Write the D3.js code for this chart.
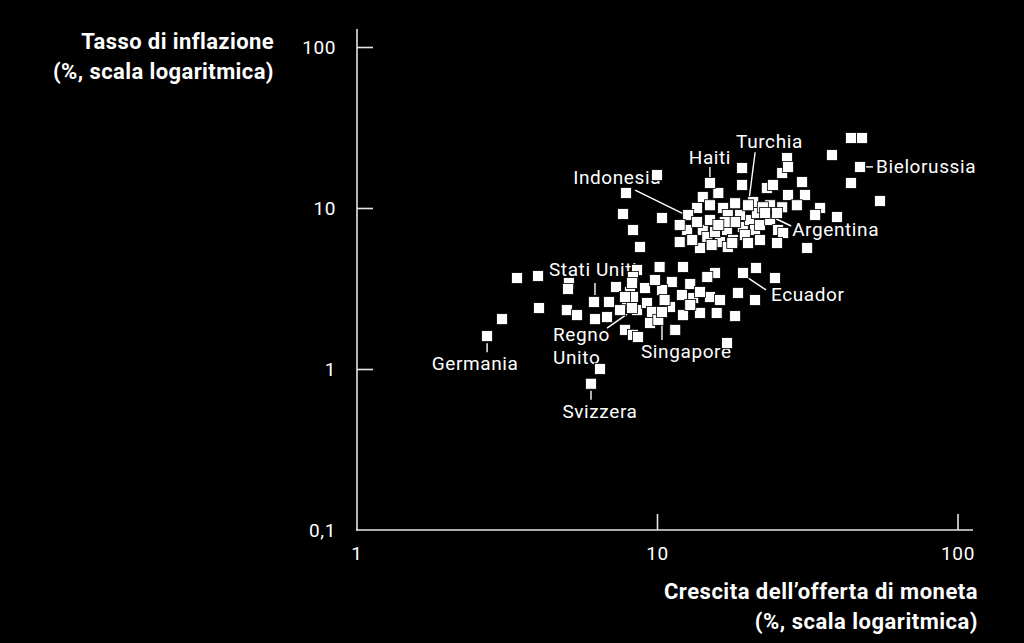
<!DOCTYPE html>
<html>
<head>
<meta charset="utf-8">
<script src="https://cdn.jsdelivr.net/npm/d3@7"></script>
<style>
  html, body { margin: 0; padding: 0; background: #000; }
  svg { display: block; }
  text { font-family: Roboto, "Noto Sans", sans-serif; fill: #fff; }
</style>
</head>
<body>
<svg id="chart" width="1024" height="643"></svg>
<script>
// ---------- DATA ----------
const xTickValues = [1, 10, 100];
const xTickLabels = ["1", "10", "100"];
const yTickValues = [0.1, 1, 10, 100];
const yTickLabels = ["0,1", "1", "10", "100"];

const yTitle = ["Tasso di inflazione", "(%, scala logaritmica)"];
const xTitle = ["Crescita dell\u2019offerta di moneta", "(%, scala logaritmica)"];

// unlabeled countries: money growth (%) and inflation (%)
const moneyGrowth = [
  10.0, 7.89, 7.71, 10.39, 8.32, 8.78, 19.2, 19.2, 14.2, 16.0, 13.6, 15.0, 16.6, 18.2,
  12.7, 12.6, 11.9, 14.2, 14.7, 13.9, 16.2, 17.1, 17.9, 19.3, 20.4, 21.2, 22.0,
  20.9, 17.2, 18.9, 19.6, 18.2, 15.6, 16.8, 22.0, 23.8, 21.5, 23.8, 23.2, 24.3, 26.1,
  27.1, 27.3, 30.4, 27.3, 31.1, 29.2, 26.1, 25.1, 34.9, 33.6, 39.7, 25.3, 26.3, 25.1,
  20.1, 31.6, 38.2, 44.2, 48.1, 44.2, 55.2, 13.1, 15.2, 17.2, 17.8, 15.0, 16.0, 22.5,
  11.9,
  3.05, 3.42, 4.02, 4.05, 5.09, 5.06, 5.01, 5.42, 6.22, 6.92, 7.31, 8.13, 7.95, 7.83,
  8.32, 8.64, 8.58, 10.2, 12.2, 15.6, 14.7, 21.35, 24.7, 11.2, 12.9, 10.4, 8.32, 15.0,
  16.2, 18.6, 21.2, 18.2, 15.8, 13.9, 12.2, 11.5, 17.1, 9.48, 6.46, 8.26, 8.32, 12.1,
  13.2, 7.83, 8.58, 9.26, 9.62, 11.05, 10.1, 6.82, 7.53, 9.12, 9.85, 13.9, 10.6, 12.9
];
const inflation = [
  16.0, 12.4, 9.18, 8.67, 7.30, 5.73, 17.7, 13.9, 11.7, 12.4, 10.0, 10.4, 10.0, 10.7,
  9.05, 7.30, 6.15, 7.30, 6.61, 5.65, 6.15, 7.30, 6.33, 7.62, 8.42, 7.30, 7.84,
  10.9, 9.05, 9.05, 6.80, 8.18, 7.10, 8.18, 6.33, 8.42, 9.31, 10.4, 13.3, 13.9, 16.5,
  20.4, 18.0, 14.5, 12.05, 12.05, 10.4, 10.1, 9.31, 10.0, 9.05, 8.79, 7.30, 6.99, 6.06,
  6.06, 5.65, 21.3, 27.2, 27.2, 14.3, 11.05, 6.33, 5.89, 5.73, 6.06, 8.42, 7.84, 10.1,
  7.84,
  2.04, 3.67, 3.78, 2.39, 3.42, 3.14, 2.32, 2.16, 2.04, 2.61, 3.23, 3.01, 2.50, 1.75,
  1.63, 1.58, 4.12, 4.30, 4.30, 3.95, 3.73, 4.24, 3.67, 3.47, 3.37, 3.09, 3.73, 2.80,
  2.68, 2.97, 2.68, 2.13, 2.23, 2.23, 2.16, 1.75, 1.45, 1.93, 1.00, 3.42, 2.80, 2.88,
  2.76, 2.80, 2.32, 2.57, 2.26, 2.43, 2.02, 2.10, 2.32, 3.18, 3.57, 3.01, 2.68, 2.50
];

// labeled countries
const labelNames = ["Germania", "Svizzera", "Regno\nUnito", "Stati Uniti", "Singapore",
                    "Ecuador", "Indonesia", "Haiti", "Turchia", "Argentina", "Bielorussia"];
const labelGrowth = [2.72, 6.03, 8.26, 6.17, 10.39, 19.33, 13.6, 15.0, 20.1, 22.9, 47.4];
const labelInflation = [1.60, 0.81, 2.39, 2.61, 2.26, 3.95, 8.18, 14.3, 10.4, 9.31, 18.0];

// ---------- LAYOUT ----------
// text offset (dx, dy baseline, anchor) and leader line (x1,y1,x2,y2) relative to the point
const labelLayout = [
  { dx: -12, dy: 34,  anchor: "middle", line: [0, 7, 0, 16] },     // Germania
  { dx: 9,   dy: 34,  anchor: "middle", line: [0, 7, 0, 16] },     // Svizzera
  { dx: -79, dy: 33,  anchor: "start",  line: [-25, 20, -5, 6] },  // Regno Unito
  { dx: -45, dy: -26, anchor: "start",  line: [1, -19, 1, -7] },   // Stati Uniti
  { dx: -21, dy: 46,  anchor: "start",  line: [0, 7, 0, 28] },     // Singapore
  { dx: 28,  dy: 28,  anchor: "start",  line: [5, 5, 23, 17] },    // Ecuador
  { dx: -124,dy: -38, anchor: "start",  line: [-62, -32, -5, -4] },// Indonesia
  { dx: 0,   dy: -19, anchor: "middle", line: [0, -16, 0, -6] },   // Haiti
  { dx: -12, dy: -57, anchor: "start",  line: [7, -53, 1, -6] },   // Turchia
  { dx: 27,  dy: 23,  anchor: "start",  line: [5, 3, 26, 13] },    // Argentina
  { dx: 16,  dy: 6,   anchor: "start",  line: [6, 0, 13, 0] }      // Bielorussia
];

const svg = d3.select("#chart");
const x = d3.scaleLog().domain([1, 100]).range([356.5, 957.5]);
const y = d3.scaleLog().domain([0.1, 100]).range([530, 47]);
const axisColor = "#e6e6e6";
const sq = 11;

// Axes
const gx = svg.append("g").attr("transform", "translate(0,530)")
  .call(d3.axisBottom(x).tickValues(xTickValues)
    .tickFormat((d, i) => xTickLabels[i]).tickSizeInner(-16).tickSizeOuter(0).tickPadding(17));
const gy = svg.append("g").attr("transform", "translate(357,0)")
  .call(d3.axisLeft(y).tickValues(yTickValues)
    .tickFormat((d, i) => yTickLabels[i]).tickSizeInner(-16).tickSizeOuter(0).tickPadding(21));
[gx, gy].forEach(g => {
  g.select(".domain").remove();
  g.selectAll(".tick line").attr("stroke", axisColor).attr("stroke-width", 1.6);
  g.selectAll(".tick text").attr("fill", "#fff").style("font-size", "19px")
    .style("font-family", "Roboto, sans-serif").style("letter-spacing", "0.6px");
});
gx.selectAll(".tick").filter(d => d === 1).select("line").remove();
gy.selectAll(".tick").filter(d => d === 0.1).select("line").remove();
gy.selectAll(".tick text").attr("dy", "0.34em");

svg.append("line").attr("x1", 357).attr("x2", 357).attr("y1", 29).attr("y2", 530.8)
  .attr("stroke", axisColor).attr("stroke-width", 1.6);
svg.append("line").attr("x1", 356.2).attr("x2", 973).attr("y1", 530).attr("y2", 530)
  .attr("stroke", axisColor).attr("stroke-width", 1.6);

// Axis titles
const yt = svg.append("text").attr("text-anchor", "end")
  .style("font-size", "22px").style("font-weight", "700").style("letter-spacing", "0.4px");
yTitle.forEach((t, i) => yt.append("tspan").attr("x", 274).attr("y", 49 + i * 30).text(t));
const xt = svg.append("text").attr("text-anchor", "end")
  .style("font-size", "22px").style("font-weight", "700").style("letter-spacing", "0.5px");
xTitle.forEach((t, i) => xt.append("tspan").attr("x", 978).attr("y", 599 + i * 30).text(t));

// Labels
const labels = labelNames.map((n, i) => ({
  name: n, gx: labelGrowth[i], inf: labelInflation[i], lay: labelLayout[i]
}));
const lg = svg.append("g");
labels.forEach(d => {
  const px = x(d.gx), py = y(d.inf), L = d.lay;
  lg.append("line")
    .attr("x1", px + L.line[0]).attr("y1", py + L.line[1])
    .attr("x2", px + L.line[2]).attr("y2", py + L.line[3])
    .attr("stroke", "#fff").attr("stroke-width", 1.4);
  const t = lg.append("text").attr("text-anchor", L.anchor)
    .style("font-size", "19px").style("letter-spacing", "0.6px");
  d.name.split("\n").forEach((line, j) => {
    t.append("tspan").attr("x", px + L.dx).attr("y", py + L.dy + j * 23).text(line);
  });
});

// Points
const pts = moneyGrowth.map((g, i) => ({ g, inf: inflation[i] }))
  .concat(labelGrowth.map((g, i) => ({ g, inf: labelInflation[i] })));
svg.append("g").selectAll("rect").data(pts).join("rect")
  .attr("x", d => x(d.g) - sq / 2).attr("y", d => y(d.inf) - sq / 2)
  .attr("width", sq).attr("height", sq)
  .attr("fill", "#fff").attr("stroke", "#000").attr("stroke-width", 0.8);
</script>
</body>
</html>
